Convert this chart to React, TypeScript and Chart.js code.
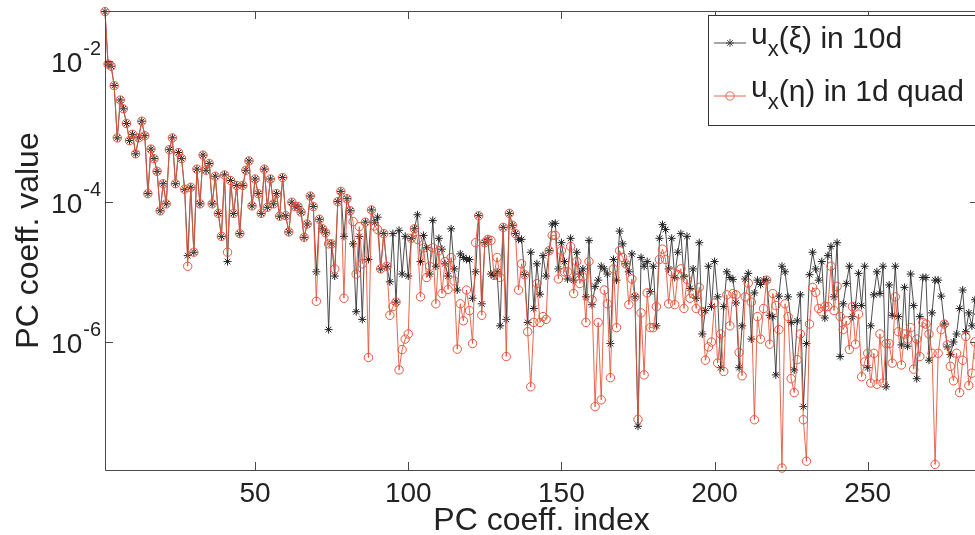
import React, { useEffect, useRef } from 'react';
import { Chart, registerables } from 'chart.js';

Chart.register(...registerables);

// ---- data ----
const indexMin = 1;
const indexMax = 286;
const xTicks = [50, 100, 150, 200, 250];
const yTickExps = [-2, -4, -6];
const yMin = 1.5e-8;
const yMax = 5.2e-2;
const xTitle = 'PC coeff. index';
const yTitle = 'PC coeff. value';
const legendSeries1 = ['u', 'x', '(ξ) in 10d'];
const legendSeries2 = ['u', 'x', '(η) in 1d quad'];

const uxXi10d = [
  5.1e-2, 9.1e-3, 8.5e-3, 4.5e-3, 8.1e-4, 2.8e-3, 2.1e-3, 1.3e-3, 7.4e-4, 9.1e-4,
  4.8e-4, 8.1e-4, 1.4e-3, 8.7e-4, 1.3e-4, 5.6e-4, 4.1e-4, 2.7e-4, 7.4e-5, 1.8e-4,
  9.3e-5, 5.5e-4, 8.1e-4, 1.8e-4, 5.0e-4, 4.1e-4, 1.5e-4, 1.7e-5, 1.6e-4, 1.9e-5,
  2.9e-4, 9.3e-5, 4.6e-4, 2.8e-4, 3.5e-4, 9.3e-5, 2.3e-4, 6.8e-5, 3.2e-5, 2.4e-4,
  1.4e-5, 2.0e-4, 6.8e-5, 1.7e-4, 3.5e-5, 1.7e-4, 2.8e-4, 3.8e-4, 8.7e-5, 2.1e-4,
  1.3e-4, 6.8e-5, 2.9e-4, 8.3e-5, 2.1e-4, 9.3e-5, 1.3e-4, 6.2e-5, 2.2e-4, 6.3e-5,
  3.7e-5, 9.8e-5, 8.5e-5, 8.5e-5, 7.1e-5, 3.1e-5, 4.8e-5, 1.2e-4, 8.5e-5, 1.0e-5,
  5.6e-5, 4.1e-5, 3.6e-5, 1.5e-6, 2.5e-5, 8.7e-6, 1.0e-4, 1.4e-4, 3.2e-5, 1.1e-4,
  7.4e-5, 2.5e-5, 2.7e-6, 3.2e-5, 2.1e-6, 5.1e-5, 1.5e-5, 7.6e-5, 5.0e-5, 6.0e-5,
  1.1e-5, 3.5e-5, 1.2e-5, 7.2e-6, 3.5e-5, 3.7e-6, 3.9e-5, 9.3e-6, 3.2e-5, 8.7e-6,
  3.0e-5, 4.1e-5, 6.5e-5, 1.4e-5, 3.3e-5, 2.2e-5, 9.3e-6, 5.4e-5, 1.2e-5, 3.0e-5,
  2.1e-5, 1.3e-5, 8.7e-6, 4.1e-5, 1.1e-5, 5.5e-6, 1.8e-5, 1.6e-5, 1.5e-5, 1.5e-5,
  4.2e-6, 1.0e-5, 6.3e-5, 3.5e-6, 2.6e-5, 2.9e-5, 9.3e-6, 8.9e-6, 1.0e-5, 1.7e-6,
  4.3e-5, 2.1e-6, 6.8e-5, 4.6e-5, 3.5e-5, 2.9e-5, 2.9e-5, 9.1e-6, 1.9e-6, 1.9e-5,
  3.0e-6, 1.3e-5, 4.8e-6, 1.7e-5, 8.7e-6, 2.0e-5, 4.8e-5, 4.9e-5, 1.1e-5, 2.6e-5,
  1.4e-5, 7.9e-6, 3.0e-5, 7.6e-6, 1.9e-5, 9.3e-6, 1.1e-5, 4.4e-6, 2.8e-5, 3.4e-6,
  6.2e-6, 7.6e-6, 1.2e-5, 1.1e-5, 9.3e-6, 9.5e-7, 1.5e-5, 7.6e-6, 3.8e-5, 2.5e-5,
  1.3e-5, 1.0e-5, 1.8e-5, 4.4e-6, 6.3e-8, 1.6e-5, 1.2e-5, 1.4e-5, 5.2e-6, 1.2e-5,
  1.7e-6, 3.0e-5, 4.7e-5, 4.0e-5, 1.1e-5, 3.0e-5, 8.3e-6, 1.9e-5, 3.5e-5, 8.5e-6,
  3.2e-5, 5.8e-6, 1.1e-5, 4.2e-6, 2.6e-5, 1.3e-6, 2.8e-6, 1.2e-5, 3.2e-6, 1.4e-5,
  4.4e-6, 4.3e-7, 3.2e-6, 1.0e-5, 8.3e-6, 7.8e-6, 3.6e-6, 4.3e-7, 1.7e-6, 7.9e-6,
  9.5e-6, 1.1e-6, 5.0e-6, 7.6e-6, 6.6e-6, 7.6e-6, 7.6e-6, 2.4e-6, 2.3e-6, 3.4e-7,
  4.5e-6, 1.2e-5, 1.0e-5, 4.4e-6, 1.9e-6, 4.0e-7, 2.0e-6, 4.7e-6, 1.2e-7, 9.5e-7,
  9.1e-6, 1.9e-5, 1.1e-5, 7.6e-6, 1.4e-5, 2.2e-6, 1.7e-5, 2.3e-5, 4.4e-6, 2.6e-5,
  6.2e-7, 3.5e-6, 6.8e-6, 1.2e-5, 2.3e-6, 3.3e-6, 9.5e-6, 3.3e-6, 1.2e-5, 4.3e-7,
  1.7e-6, 4.7e-6, 1.0e-5, 4.9e-6, 1.2e-5, 2.3e-7, 6.5e-6, 2.4e-6, 1.2e-5, 2.3e-6,
  9.1e-7, 6.0e-6, 8.7e-7, 9.3e-6, 3.3e-6, 3.0e-7, 2.3e-6, 8.3e-6, 8.3e-6, 5.5e-7,
  2.6e-6, 7.6e-6, 7.6e-6, 4.5e-6, 1.8e-6, 8.5e-7, 6.6e-7, 1.0e-6, 1.3e-6, 3.0e-6,
  5.5e-6, 1.4e-6, 2.6e-6, 1.7e-6, 4.0e-6, 2.5e-6,
];

const uxEta1dQuad = [
  5.1e-2, 9.1e-3, 8.5e-3, 4.5e-3, 8.1e-4, 2.8e-3, 2.1e-3, 1.3e-3, 7.4e-4, 9.1e-4,
  4.8e-4, 8.1e-4, 1.4e-3, 8.7e-4, 1.3e-4, 5.6e-4, 4.1e-4, 2.7e-4, 7.4e-5, 1.8e-4,
  9.3e-5, 5.5e-4, 8.1e-4, 1.8e-4, 5.0e-4, 4.1e-4, 1.5e-4, 1.2e-5, 1.6e-4, 1.9e-5,
  2.9e-4, 9.3e-5, 4.6e-4, 2.8e-4, 3.5e-4, 9.3e-5, 2.3e-4, 6.8e-5, 3.2e-5, 2.4e-4,
  1.9e-5, 2.0e-4, 6.8e-5, 1.7e-4, 3.5e-5, 1.7e-4, 2.8e-4, 3.8e-4, 8.7e-5, 2.1e-4,
  1.3e-4, 6.8e-5, 2.9e-4, 8.3e-5, 2.1e-4, 9.3e-5, 1.3e-4, 6.2e-5, 2.2e-4, 6.3e-5,
  3.7e-5, 9.8e-5, 8.5e-5, 8.5e-5, 7.1e-5, 3.1e-5, 4.8e-5, 1.2e-4, 8.5e-5, 3.8e-6,
  5.6e-5, 4.1e-5, 3.6e-5, 2.5e-5, 2.5e-5, 1.1e-5, 1.0e-4, 1.4e-4, 4.2e-6, 1.1e-4,
  7.4e-5, 5.2e-5, 9.3e-6, 4.4e-5, 1.3e-5, 5.1e-5, 6.0e-7, 7.6e-5, 4.5e-5, 4.0e-5,
  1.1e-5, 3.5e-5, 1.2e-5, 2.4e-6, 3.2e-6, 3.7e-6, 4.0e-7, 7.8e-7, 1.1e-6, 1.3e-6,
  3.0e-5, 4.1e-5, 2.9e-5, 4.4e-6, 2.2e-5, 8.3e-6, 1.2e-5, 2.2e-5, 3.5e-6, 2.0e-5,
  4.9e-6, 1.4e-5, 5.6e-6, 1.6e-5, 7.4e-6, 7.9e-7, 3.5e-6, 2.0e-6, 5.5e-6, 2.8e-6,
  9.5e-7, 2.6e-5, 6.3e-5, 2.4e-6, 2.6e-5, 2.9e-5, 2.8e-5, 8.9e-6, 1.6e-5, 8.3e-6,
  4.3e-5, 6.2e-7, 6.8e-5, 4.6e-5, 3.5e-5, 5.5e-6, 1.3e-5, 9.1e-6, 1.4e-6, 2.3e-7,
  1.9e-6, 6.8e-6, 1.9e-6, 2.3e-6, 2.1e-6, 2.0e-5, 3.3e-5, 3.3e-5, 7.9e-6, 2.0e-5,
  1.0e-5, 1.0e-5, 2.3e-5, 4.9e-6, 1.4e-5, 6.8e-6, 8.5e-6, 1.9e-6, 1.4e-5, 4.0e-6,
  1.2e-7, 1.9e-6, 1.5e-7, 5.5e-6, 3.5e-6, 3.1e-7, 1.1e-5, 1.6e-6, 2.0e-5, 1.6e-5,
  1.3e-5, 3.4e-6, 7.9e-6, 4.4e-6, 7.9e-8, 2.6e-6, 3.4e-7, 5.0e-6, 1.6e-6, 1.6e-6,
  3.2e-6, 1.5e-5, 2.1e-5, 1.5e-5, 3.5e-6, 1.0e-5, 3.4e-6, 9.1e-6, 1.1e-5, 3.0e-6,
  7.8e-6, 4.2e-6, 4.9e-6, 3.0e-6, 6.0e-6, 2.7e-6, 5.5e-7, 8.5e-7, 1.0e-6, 3.6e-6,
  5.0e-7, 1.3e-6, 3.8e-7, 4.7e-6, 1.7e-6, 4.9e-6, 4.7e-6, 7.1e-7, 3.3e-7, 4.4e-6,
  6.9e-6, 3.7e-6, 7.8e-8, 2.3e-6, 1.1e-6, 3.0e-6, 7.6e-6, 9.3e-7, 4.9e-6, 3.3e-6,
  1.5e-6, 1.6e-8, 3.5e-6, 2.3e-6, 3.0e-7, 1.9e-7, 5.6e-7, 1.3e-6, 7.8e-8, 2.0e-8,
  1.8e-6, 6.0e-6, 5.1e-6, 3.0e-6, 2.7e-6, 3.2e-6, 3.2e-6, 1.2e-5, 2.8e-6, 6.2e-6,
  2.3e-6, 1.5e-6, 2.0e-6, 7.8e-7, 3.2e-6, 9.3e-7, 2.5e-6, 3.2e-7, 5.2e-7, 6.9e-7,
  2.6e-7, 6.9e-7, 2.5e-7, 1.3e-6, 2.6e-7, 9.5e-7, 9.5e-7, 5.0e-7, 4.4e-6, 1.4e-6,
  4.7e-7, 1.3e-6, 1.1e-6, 1.6e-6, 4.1e-7, 1.1e-6, 6.2e-7, 1.9e-6, 1.8e-6, 1.3e-6,
  6.9e-7, 1.8e-8, 6.9e-7, 1.5e-6, 1.8e-6, 9.1e-7, 4.5e-7, 2.8e-7, 6.9e-7, 1.9e-7,
  5.5e-7, 1.2e-6, 2.4e-7, 3.6e-7, 1.0e-6, 6.3e-7,
];

// ---- styling ----
const CANVAS_W = 1000;
const CANVAS_H = 535;
const FONT = '"Liberation Sans", Arial, Helvetica, sans-serif';
const BLACK = '#3a3a3a';
const RED = '#e8553a';
const AXIS = '#4a4a4a';
const TEXT = '#222222';

function drawStar(ctx: CanvasRenderingContext2D, x: number, y: number, r: number) {
  ctx.beginPath();
  for (let k = 0; k < 4; k++) {
    const a = (k * Math.PI) / 4;
    ctx.moveTo(x - r * Math.cos(a), y - r * Math.sin(a));
    ctx.lineTo(x + r * Math.cos(a), y + r * Math.sin(a));
  }
  ctx.stroke();
}

const matlabAxes = {
  id: 'matlabAxes',
  afterDraw(chart: any) {
    const { ctx, chartArea: a, scales } = chart;
    const xs = scales.x;
    const ys = scales.y;
    ctx.save();

    // frame
    ctx.strokeStyle = AXIS;
    ctx.lineWidth = 1;
    ctx.beginPath();
    ctx.rect(Math.round(a.left) + 0.5, Math.round(a.top) + 0.5, Math.round(a.right - a.left), Math.round(a.bottom - a.top));
    ctx.stroke();

    // ticks (inward)
    const tl = 8;
    ctx.beginPath();
    for (const t of xTicks) {
      const px = Math.round(xs.getPixelForValue(t)) + 0.5;
      ctx.moveTo(px, a.bottom);
      ctx.lineTo(px, a.bottom - tl);
      ctx.moveTo(px, a.top);
      ctx.lineTo(px, a.top + tl);
    }
    for (const e of yTickExps) {
      const py = Math.round(ys.getPixelForValue(Math.pow(10, e))) + 0.5;
      ctx.moveTo(a.left, py);
      ctx.lineTo(a.left + tl, py);
      ctx.moveTo(a.right, py);
      ctx.lineTo(a.right - tl, py);
    }
    ctx.stroke();

    // x tick labels
    ctx.fillStyle = TEXT;
    ctx.font = `28px ${FONT}`;
    ctx.textAlign = 'center';
    ctx.textBaseline = 'alphabetic';
    for (const t of xTicks) {
      ctx.fillText(String(t), xs.getPixelForValue(t), a.bottom + 32);
    }

    // y tick labels 10^e
    for (const e of yTickExps) {
      const py = ys.getPixelForValue(Math.pow(10, e));
      const sup = String(e);
      ctx.font = `20px ${FONT}`;
      const supW = ctx.measureText(sup).width;
      ctx.textAlign = 'right';
      const supRight = a.left - 4;
      ctx.fillText(sup, supRight, py - 6);
      ctx.font = `28px ${FONT}`;
      ctx.fillText('10', supRight - supW - 1, py + 11);
    }

    // axis titles
    ctx.font = `32px ${FONT}`;
    ctx.textAlign = 'center';
    ctx.textBaseline = 'alphabetic';
    ctx.fillText(xTitle, (a.left + a.right) / 2, a.bottom + 60);
    ctx.save();
    ctx.translate(38, (a.top + a.bottom) / 2);
    ctx.rotate(-Math.PI / 2);
    ctx.fillText(yTitle, 0, 0);
    ctx.restore();

    // legend box
    const bx = 708.5;
    const by = 15.5;
    const bw = 300;
    const bh = 110;
    ctx.fillStyle = '#ffffff';
    ctx.fillRect(bx, by, bw, bh);
    ctx.strokeStyle = '#333333';
    ctx.lineWidth = 1;
    ctx.strokeRect(bx, by, bw, bh);

    const rows = [
      { parts: legendSeries1, color: BLACK, marker: 'star', y: 43 },
      { parts: legendSeries2, color: RED, marker: 'circle', y: 96 },
    ];
    for (const r of rows) {
      ctx.strokeStyle = r.color;
      ctx.lineWidth = 0.9;
      ctx.beginPath();
      ctx.moveTo(714, r.y);
      ctx.lineTo(746, r.y);
      ctx.stroke();
      if (r.marker === 'star') {
        drawStar(ctx, 730, r.y, 4);
      } else {
        ctx.beginPath();
        ctx.arc(730, r.y, 4.2, 0, Math.PI * 2);
        ctx.stroke();
      }
      ctx.fillStyle = TEXT;
      ctx.textAlign = 'left';
      ctx.textBaseline = 'alphabetic';
      let tx = 751;
      ctx.font = `30px ${FONT}`;
      ctx.fillText(r.parts[0], tx, r.y + 1);
      tx += ctx.measureText(r.parts[0]).width;
      ctx.font = `22px ${FONT}`;
      ctx.fillText(r.parts[1], tx, r.y + 13);
      tx += ctx.measureText(r.parts[1]).width;
      ctx.font = `30px ${FONT}`;
      ctx.fillText(r.parts[2], tx, r.y + 5);
    }
    ctx.restore();
  },
};

export default function App() {
  const ref = useRef<HTMLCanvasElement | null>(null);

  useEffect(() => {
    if (!ref.current) return;
    const chart = new Chart(ref.current, {
      type: 'line',
      data: {
        datasets: [
          {
            label: 'u_x(ξ) in 10d',
            data: uxXi10d.map((v, i) => ({ x: indexMin + i, y: v })),
            borderColor: BLACK,
            backgroundColor: BLACK,
            borderWidth: 0.9,
            pointStyle: 'star',
            pointRadius: 4,
            pointBorderWidth: 1,
            pointBorderColor: '#222222',
            tension: 0,
            clip: false,
            order: 2,
          },
          {
            label: 'u_x(η) in 1d quad',
            data: uxEta1dQuad.map((v, i) => ({ x: indexMin + i, y: v })),
            borderColor: RED,
            backgroundColor: 'rgba(0,0,0,0)',
            borderWidth: 0.9,
            pointStyle: 'circle',
            pointRadius: 4.2,
            pointBorderWidth: 1,
            pointBorderColor: RED,
            tension: 0,
            clip: false,
            order: 1,
          },
        ],
      },
      options: {
        animation: false,
        responsive: false,
        devicePixelRatio: 1,
        events: [],
        layout: { padding: { left: 105, top: 11, right: CANVAS_W - 978, bottom: CANVAS_H - 470 } },
        plugins: { legend: { display: false }, tooltip: { enabled: false } },
        scales: {
          x: { type: 'linear', min: indexMin, max: indexMax, display: false },
          y: { type: 'logarithmic', min: yMin, max: yMax, display: false },
        },
      },
      plugins: [matlabAxes],
    });
    return () => chart.destroy();
  }, []);

  return (
    <div
      style={{
        position: 'absolute',
        left: 0,
        top: 0,
        width: 975,
        height: 535,
        overflow: 'hidden',
        background: '#ffffff',
      }}
    >
      <canvas ref={ref} width={CANVAS_W} height={CANVAS_H} style={{ display: 'block', width: CANVAS_W, height: CANVAS_H }} />
    </div>
  );
}
